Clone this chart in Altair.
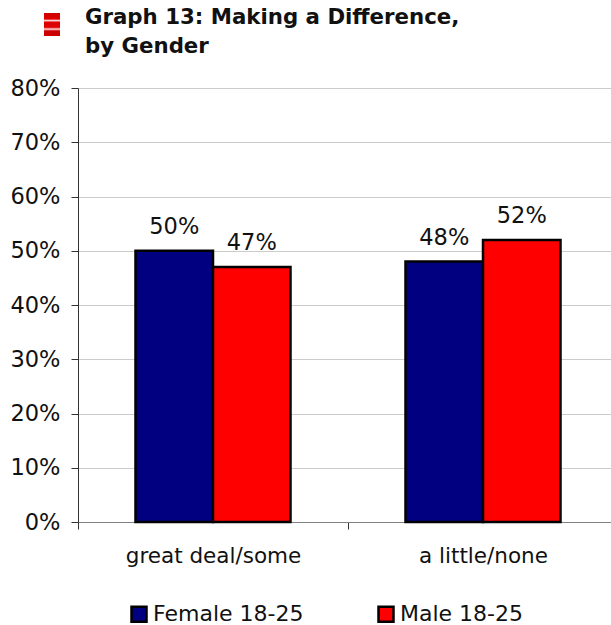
import altair as alt
import pandas as pd

categories = ["great deal/some", "a little/none"]
series = ["Female 18-25", "Male 18-25"]
female_values = [50, 48]
male_values = [47, 52]
colors = ["#000080", "#ff0000"]
y_ticks = [0, 10, 20, 30, 40, 50, 60, 70, 80]
title_lines = ["Graph 13: Making a Difference,", "by Gender"]

FONT = "DejaVu Sans"

rows = []
for name, vals in zip(series, [female_values, male_values]):
    for cat, v in zip(categories, vals):
        rows.append({"category": cat, "series": name, "value": v, "label": f"{v}%"})
df = pd.DataFrame(rows)

x = alt.X(
    "category:N",
    sort=categories,
    title=None,
    scale=alt.Scale(range=[0, 540], paddingInner=0, paddingOuter=0),
    axis=alt.Axis(
        labelAngle=0, labelFont=FONT, labelFontSize=21.5, labelColor="#111111",
        labelPadding=16, tickBand="extent", tickSize=7, tickColor="#333333",
        domainColor="#808080", labelOverlap=False,
    ),
)
y = alt.Y(
    "value:Q",
    title=None,
    scale=alt.Scale(domain=[0, 80], nice=False),
    axis=alt.Axis(
        values=y_ticks, labelExpr="datum.value + '%'", labelFont=FONT, labelFontSize=22.5,
        labelColor="#111111", labelPadding=11, tickSize=7, tickColor="#333333",
        domainColor="#333333", gridColor="#cccccc", grid=True,
    ),
)
x_offset = alt.XOffset(
    "series:N", sort=series, scale=alt.Scale(paddingInner=0, paddingOuter=0.742)
)

bars = (
    alt.Chart(df)
    .mark_bar(stroke="black", strokeWidth=2.5)
    .encode(
        x=x,
        xOffset=x_offset,
        y=y,
        color=alt.Color(
            "series:N",
            sort=series,
            scale=alt.Scale(domain=series, range=colors),
            legend=alt.Legend(
                title=None, orient="none", legendX=50, legendY=515, direction="horizontal",
                columns=2, columnPadding=69, symbolType="square", symbolSize=225,
                symbolStrokeColor="black", symbolStrokeWidth=2.5, labelFont=FONT,
                labelFontSize=22, labelColor="#111111", labelOffset=3,
                symbolOpacity=1,
            ),
        ),
    )
)

labels = (
    alt.Chart(df)
    .mark_text(baseline="bottom", dy=-12, font=FONT, fontSize=22.5, color="#111111")
    .encode(x=x, xOffset=x_offset, y=y, text="label:N")
)

# Small striped marker beside the heading
marker = (
    alt.Chart(pd.DataFrame({"k": [0]}))
    .mark_rect(
        fill=alt.Gradient(
            gradient="linear", x1=0, y1=0, x2=0, y2=1,
            stops=[
                alt.GradientStop(offset=0, color="#cc0000"),
                alt.GradientStop(offset=0.26, color="#dd0000"),
                alt.GradientStop(offset=0.33, color="#ffdddd"),
                alt.GradientStop(offset=0.4, color="#dd0000"),
                alt.GradientStop(offset=0.62, color="#dd0000"),
                alt.GradientStop(offset=0.7, color="#ffdddd"),
                alt.GradientStop(offset=0.78, color="#cc0000"),
                alt.GradientStop(offset=1, color="#cc0000"),
            ],
        )
    )
    .encode(x=alt.value(-34), x2=alt.value(-18), y=alt.value(-75), y2=alt.value(-52))
)

chart = (
    alt.layer(bars, labels, marker)
    .properties(
        width=533,
        height=434,
        padding={"left": 78, "top": 88, "right": 0, "bottom": 103},
        autosize=alt.AutoSizeParams(type="none"),
        title=alt.TitleParams(
            text=title_lines, anchor="start", frame="group", font=FONT, fontSize=21.3,
            fontWeight="bold", color="#111111", dx=7, offset=-44, lineHeight=29,
        ),
    )
    .configure_view(stroke=None)
    .configure(background="white")
)

chart.save("out.html", embed_options={"renderer": "svg", "actions": False})
